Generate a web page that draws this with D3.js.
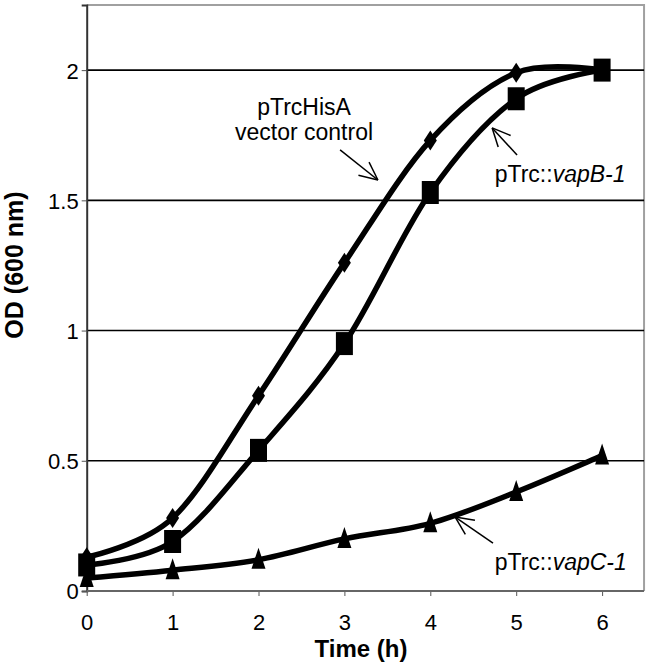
<!DOCTYPE html>
<html>
<head>
<meta charset="utf-8">
<script src="https://cdn.jsdelivr.net/npm/d3@7"></script>
<style>
  body { margin: 0; background: #fff; }
  svg text { font-family: "Liberation Sans", Arial, sans-serif; fill: #000; }
</style>
</head>
<body>
<div id="chart"></div>
<script>
// DATA
const hours = [0, 1, 2, 3, 4, 5, 6];
const vectorOD = [0.13, 0.28, 0.75, 1.26, 1.73, 1.99, 2.0];
const vapBOD = [0.10, 0.19, 0.54, 0.95, 1.53, 1.89, 2.0];
const vapCOD = [0.05, 0.08, 0.12, 0.20, 0.26, 0.38, 0.52];
const xTicks = [0, 1, 2, 3, 4, 5, 6];
const yTicks = [0, 0.5, 1, 1.5, 2];
const gridValues = [0.5, 1, 1.5, 2];

// annotations, in data units (tail -> tip of arrow, label anchor)
const labelVector = { lines: ['pTrcHisA', 'vector control'], x: 2.53, y: 1.828, tail: [2.95, 1.694], tip: [3.39, 1.578] };
const labelVapB = { pre: 'pTrc::', ital: 'vapB-1', x: 4.75, y: 1.571, tail: [5.01, 1.674], tip: [4.72, 1.778] };
const labelVapC = { pre: 'pTrc::', ital: 'vapC-1', x: 4.75, y: 0.081, tail: [4.73, 0.184], tip: [4.29, 0.284] };

document.addEventListener('DOMContentLoaded', function(){
  drawChart();
});

function drawChart(){
  const W = 647, H = 665;
  const margin = { top: 5, right: 2, bottom: 74, left: 86.7 };

  const svg = d3.select('#chart').append('svg')
                .attr('width', W)
                .attr('height', H);

  const x = d3.scaleLinear().domain([0, 6.5]).range([margin.left, margin.left + 6.5 * 85.9]);
  const y = d3.scaleLinear().domain([0, 2.25]).range([H - margin.bottom, margin.top]);

  // plot frame (top & right light gray)
  svg.append('path')
     .attr('d', `M${x(0)},${y(2.25)}H${x(6.5) - 1}V${y(0)}`)
     .attr('fill', 'none')
     .attr('stroke', '#a0a0a0')
     .attr('stroke-width', 2);

  // gridlines
  svg.append('g').selectAll('line')
     .data(gridValues).enter()
     .append('line')
       .attr('x1', x(0)).attr('x2', x(6.5) - 1)
       .attr('y1', d => y(d)).attr('y2', d => y(d))
       .attr('stroke', '#000')
       .attr('stroke-width', 1.6);

  // y axis
  const yAxis = svg.append('g')
     .attr('transform', `translate(${x(0)},0)`)
     .call(d3.axisLeft(y).tickValues(yTicks).tickSize(5).tickPadding(3).tickFormat(d3.format('')));
  yAxis.select('.domain').attr('stroke', '#333').attr('stroke-width', 2);
  yAxis.selectAll('.tick line').attr('stroke', '#555').attr('stroke-width', 1);
  yAxis.selectAll('.tick text').style('font-size', '22px').attr('fill', '#000').attr('dy', '0.36em');

  // x axis
  const xAxis = svg.append('g')
     .attr('transform', `translate(0,${y(0)})`)
     .call(d3.axisBottom(x).tickValues(xTicks).tickSize(5).tickPadding(18).tickFormat(d3.format('d')));
  xAxis.select('.domain').remove();
  xAxis.append('line')
       .attr('x1', x(0)).attr('x2', x(6.5) - 1)
       .attr('stroke', '#666').attr('stroke-width', 2);
  xAxis.selectAll('.tick line').attr('stroke', '#555').attr('stroke-width', 1);
  xAxis.selectAll('.tick text').style('font-size', '22px').attr('fill', '#000');

  // axis titles
  svg.append('text')
     .attr('x', 361).attr('y', 657)
     .attr('text-anchor', 'middle')
     .style('font-size', '24px').style('font-weight', 'bold')
     .text('Time (h)');
  svg.append('text')
     .attr('transform', 'translate(23,265) rotate(-90)')
     .attr('text-anchor', 'middle')
     .style('font-size', '25px').style('font-weight', 'bold')
     .text('OD (600 nm)');

  // series
  const series = [
    { values: vectorOD, marker: 'diamond' },
    { values: vapBOD, marker: 'square' },
    { values: vapCOD, marker: 'triangle' }
  ];

  const line = d3.line()
                 .x((d, i) => x(hours[i]))
                 .y(d => y(d))
                 .curve(d3.curveCardinal.tension(0));

  series.forEach(s => {
    svg.append('path')
       .attr('d', line(s.values))
       .attr('fill', 'none')
       .attr('stroke', '#000')
       .attr('stroke-width', 5.5)
       .attr('stroke-linejoin', 'round');
  });

  function markerPath(type){
    if (type === 'diamond') return 'M0,-10L6.5,0L0,10L-6.5,0Z';
    if (type === 'square') return 'M-8.5,-11.5H8.5V11.5H-8.5Z';
    return 'M0,-12L7,9H-7Z';
  }

  series.forEach(s => {
    svg.append('g').selectAll('path')
       .data(s.values).enter()
       .append('path')
         .attr('transform', (d, i) => `translate(${x(hours[i])},${y(d)})`)
         .attr('d', markerPath(s.marker))
         .attr('fill', '#000');
  });

  // annotations
  function arrow(tail, tip){
    const x1 = x(tail[0]), y1 = y(tail[1]);
    const x2 = x(tip[0]), y2 = y(tip[1]);
    const a = Math.atan2(y1 - y2, x1 - x2);
    const len = 20, spread = 25 * Math.PI / 180;
    const g = svg.append('g').attr('stroke', '#000').attr('stroke-width', 1.5).attr('fill', 'none');
    g.append('line').attr('x1', x1).attr('y1', y1).attr('x2', x2).attr('y2', y2);
    [a - spread, a + spread].forEach(b => {
      g.append('line')
       .attr('x1', x2).attr('y1', y2)
       .attr('x2', x2 + len * Math.cos(b)).attr('y2', y2 + len * Math.sin(b));
    });
  }

  const tv = svg.append('text')
     .attr('text-anchor', 'middle')
     .style('font-size', '23px');
  labelVector.lines.forEach((t, i) => {
    tv.append('tspan')
      .attr('x', x(labelVector.x))
      .attr('y', y(labelVector.y) + i * 25)
      .text(t);
  });
  arrow(labelVector.tail, labelVector.tip);

  [labelVapB, labelVapC].forEach(l => {
    const t = svg.append('text')
       .attr('x', x(l.x)).attr('y', y(l.y))
       .style('font-size', '23px');
    t.append('tspan').text(l.pre);
    t.append('tspan').style('font-style', 'italic').text(l.ital);
    arrow(l.tail, l.tip);
  });
}
</script>
</body>
</html>
